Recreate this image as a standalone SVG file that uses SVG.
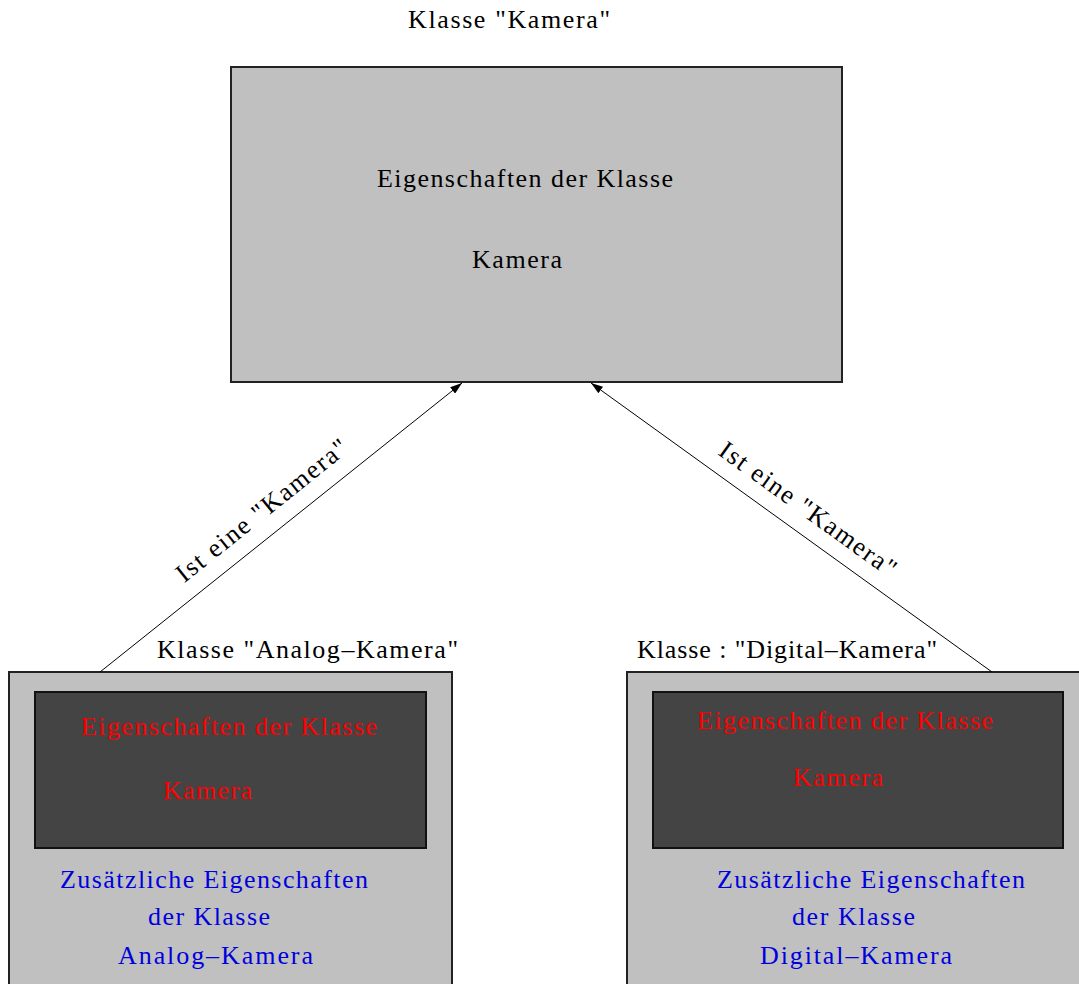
<svg xmlns="http://www.w3.org/2000/svg" width="1079" height="984" viewBox="0 0 1079 984">
<style>
text{font-family:"Liberation Serif","Times New Roman",serif;font-size:26px;}
.k{fill:#000;}
.r{fill:#ff0000;}
.b{fill:#0000dd;}
.outer{fill:#c0c0c0;stroke:#222;stroke-width:2;}
.inner{fill:#444444;stroke:#111;stroke-width:2;}
.conn{stroke:#000;stroke-width:1;fill:none;}
</style>
<defs>
<marker id="ah" viewBox="0 0 12 8" refX="12" refY="4" markerWidth="12" markerHeight="8" markerUnits="userSpaceOnUse" orient="auto">
<path d="M0,0 L12,4 L0,8 Z" fill="#000"/>
</marker>
</defs>
<rect width="1079" height="984" fill="#fff"/>
<text class="k" x="408" y="28" textLength="202" lengthAdjust="spacing">Klasse "Kamera"</text>
<g id="kamera">
<rect class="outer" x="231" y="67" width="611" height="315"/>
<text class="k" x="377" y="187" textLength="296" lengthAdjust="spacing">Eigenschaften der Klasse</text>
<text class="k" x="472" y="268" textLength="90" lengthAdjust="spacing">Kamera</text>
</g>
<g id="analog">
<text class="k" x="157" y="658" textLength="301" lengthAdjust="spacing">Klasse "Analog–Kamera"</text>
<rect class="outer" x="9" y="672" width="443" height="330"/>
<rect class="inner" x="35" y="692" width="391" height="156"/>
<text class="r" x="81" y="735" textLength="296" lengthAdjust="spacing">Eigenschaften der Klasse</text>
<text class="r" x="163" y="799" textLength="89" lengthAdjust="spacing">Kamera</text>
<text class="b" x="60" y="888" textLength="308" lengthAdjust="spacing">Zusätzliche Eigenschaften</text>
<text class="b" x="148" y="925" textLength="122" lengthAdjust="spacing">der Klasse</text>
<text class="b" x="118" y="964" textLength="195" lengthAdjust="spacing">Analog–Kamera</text>
</g>
<g id="digital">
<text class="k" x="637" y="658" textLength="300" lengthAdjust="spacing">Klasse : "Digital–Kamera"</text>
<rect class="outer" x="627" y="672" width="470" height="330"/>
<rect class="inner" x="653" y="692" width="410" height="156"/>
<text class="r" x="697" y="729" textLength="296" lengthAdjust="spacing">Eigenschaften der Klasse</text>
<text class="r" x="793" y="786" textLength="90" lengthAdjust="spacing">Kamera</text>
<text class="b" x="717" y="888" textLength="308" lengthAdjust="spacing">Zusätzliche Eigenschaften</text>
<text class="b" x="792" y="925" textLength="123" lengthAdjust="spacing">der Klasse</text>
<text class="b" x="760" y="964" textLength="192" lengthAdjust="spacing">Digital–Kamera</text>
</g>
<g id="connectors">
<line class="conn" x1="100" y1="672" x2="462" y2="383" marker-end="url(#ah)"/>
<line class="conn" x1="992" y1="672" x2="591" y2="383" marker-end="url(#ah)"/>
<text class="k" x="267" y="517" text-anchor="middle" textLength="212" lengthAdjust="spacing" transform="rotate(-38.7 267 517)">Ist eine "Kamera"</text>
<text class="k" x="803" y="516" text-anchor="middle" textLength="212" lengthAdjust="spacing" transform="rotate(35.8 803 516)">Ist eine "Kamera"</text>
</g>
</svg>
